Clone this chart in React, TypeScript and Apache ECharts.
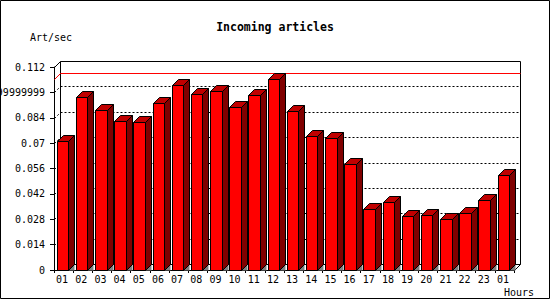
import React, { useEffect, useRef } from "react";
import * as echarts from "echarts";

const categories = ["01","02","03","04","05","06","07","08","09","10","11","12","13","14","15","16","17","18","19","20","21","22","23","01"];
const articlesPerSec = [0.0710, 0.0953, 0.0881, 0.0820, 0.0815, 0.0920, 0.1019, 0.0969, 0.0986, 0.0897, 0.0964, 0.1052, 0.0875, 0.0737, 0.0726, 0.0583, 0.0338, 0.0373, 0.0296, 0.0302, 0.0280, 0.0313, 0.0384, 0.0523];
const yTickValues = [0, 0.014, 0.028, 0.042, 0.056, 0.07, 0.084, 0.098, 0.112];
const yTickLabels = ["0", "0.014", "0.028", "0.042", "0.056", "0.07", "0.084", "0.09799999999999999", "0.112"];
const titleText = "Incoming articles";
const yUnitText = "Art/sec";
const xUnitText = "Hours";

const FONT = "DejaVu Sans Mono";
const D = 6;

export default function App() {
  const ref = useRef<HTMLDivElement>(null);
  useEffect(() => {
    document.body.style.margin = "0";
    if (!ref.current) return;
    const chart = echarts.init(ref.current, null, { renderer: "svg" });
    const maxV = Math.max(...articlesPerSec);
    const yMin = yTickValues[0];
    const yMax = yTickValues[yTickValues.length - 1];
    const step = yTickValues[1] - yTickValues[0];
    const px = (v: number) => Math.round(v) + 0.5;

    const option: any = {
      animation: false,
      grid: { left: 54, top: 67, right: 36, bottom: 30, containLabel: false, outerBoundsMode: "none" },
      xAxis: {
        type: "category",
        data: categories,
        boundaryGap: true,
        axisLine: { show: true, lineStyle: { color: "#000", width: 1 } },
        axisTick: { show: true, interval: 0, length: 3, lineStyle: { color: "#000" } },
        axisLabel: { interval: 0, margin: 4, color: "#000", fontFamily: FONT, fontSize: 10, padding: [0, 3, 0, 0] },
        splitLine: { show: false },
      },
      yAxis: {
        type: "value",
        min: yMin,
        max: yMax,
        interval: step,
        axisLine: { show: true, lineStyle: { color: "#000", width: 1 } },
        axisTick: { show: true, length: 4, lineStyle: { color: "#000" } },
        axisLabel: {
          margin: 9,
          color: "#000",
          fontFamily: FONT,
          fontSize: 10,
          hideOverlap: false,
          formatter: (v: number) => yTickLabels[Math.round((v - yMin) / step)] ?? String(v),
        },
        splitLine: { show: false },
      },
      graphic: [
        { type: "rect", shape: { x: 0.5, y: 0.5, width: 549, height: 298 }, style: { fill: "none", stroke: "#000", lineWidth: 1 }, z: 100 },
        { type: "text", x: 275, y: 27, style: { text: titleText, fontFamily: FONT, fontWeight: "bold", fontSize: 11.5, fill: "#000", align: "center", verticalAlign: "middle" } },
        { type: "text", x: 30, y: 37, style: { text: yUnitText, fontFamily: FONT, fontSize: 10, fill: "#000", align: "left", verticalAlign: "middle" } },
        { type: "text", x: 504, y: 292, style: { text: xUnitText, fontFamily: FONT, fontSize: 10, fill: "#000", align: "left", verticalAlign: "middle" } },
      ],
      series: [
        {
          type: "custom",
          name: "wall",
          z: 1,
          silent: true,
          data: [[0, 0]],
          renderItem: (params: any, api: any) => {
            const cs = params.coordSys;
            const gx = cs.x, gy = cs.y, gw = cs.width, gh = cs.height;
            const children: any[] = [];
            children.push({
              type: "rect",
              shape: { x: px(gx + D), y: px(gy - D), width: Math.round(gw), height: Math.round(gh) },
              style: { fill: "#fff", stroke: "#000", lineWidth: 1 },
            });
            yTickValues.forEach((v, i) => {
              if (i === 0 || i === yTickValues.length - 1) return;
              const yy = px(api.coord([0, v])[1]);
              children.push({
                type: "line",
                shape: { x1: px(gx + D), y1: yy - D, x2: px(gx + gw + D), y2: yy - D },
                style: { stroke: "#000", lineWidth: 1, lineDash: [2, 2] },
              });
              children.push({
                type: "line",
                shape: { x1: px(gx), y1: yy, x2: px(gx + D), y2: yy - D },
                style: { stroke: "#000", lineWidth: 1, lineDash: [2, 2] },
              });
            });
            children.push({
              type: "line",
              shape: { x1: px(gx), y1: px(gy), x2: px(gx + D), y2: px(gy - D) },
              style: { stroke: "#000", lineWidth: 1 },
            });
            children.push({
              type: "line",
              shape: { x1: px(gx + gw), y1: px(gy + gh), x2: px(gx + gw + D), y2: px(gy + gh - D) },
              style: { stroke: "#000", lineWidth: 1 },
            });
            const ym = px(api.coord([0, maxV])[1]);
            children.push({
              type: "polyline",
              shape: { points: [[px(gx), ym], [px(gx + D), ym - D], [px(gx + gw + D), ym - D]] },
              style: { stroke: "#ff0000", lineWidth: 1, fill: "none" },
            });
            return { type: "group", children };
          },
        },
        {
          type: "custom",
          name: "Art/sec",
          z: 3,
          data: articlesPerSec.map((v, i) => [i, v]),
          renderItem: (params: any, api: any) => {
            const idx = api.value(0);
            const val = api.value(1);
            const top = api.coord([idx, val]);
            const base = api.coord([idx, 0]);
            const w = api.size([1, 0])[0];
            const xl = px(top[0] - 0.36 * w);
            const xr = px(top[0] - 0.36 * w + 0.605 * w);
            const yt = px(top[1]);
            const y0 = px(base[1]);
            const line = { stroke: "#000", lineWidth: 1, lineJoin: "miter" };
            return {
              type: "group",
              children: [
                {
                  type: "polygon",
                  shape: { points: [[xr, y0], [xr + D, y0 - D], [xr + D, y0]] },
                  style: { fill: "#808080" },
                },
                {
                  type: "polygon",
                  shape: { points: [[xl, yt], [xr, yt], [xr, y0], [xl, y0]] },
                  style: { fill: "#ff0000", ...line },
                },
                {
                  type: "polygon",
                  shape: { points: [[xl, yt], [xl + D, yt - D], [xr + D, yt - D], [xr, yt]] },
                  style: { fill: "#c00000", ...line },
                },
                {
                  type: "polygon",
                  shape: { points: [[xr, yt], [xr + D, yt - D], [xr + D, y0 - D], [xr, y0]] },
                  style: { fill: "#800000", ...line },
                },
              ],
            };
          },
        },
      ],
    };
    chart.setOption(option);
    return () => chart.dispose();
  }, []);
  return <div ref={ref} style={{ width: 550, height: 300 }} />;
}
